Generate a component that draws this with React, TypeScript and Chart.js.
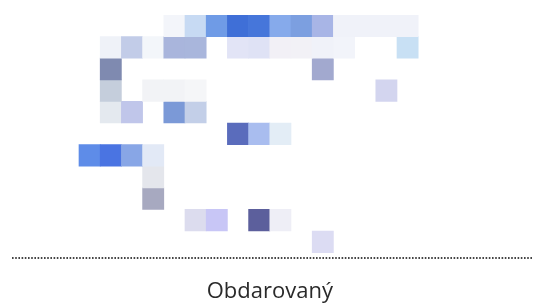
import React, { useEffect, useRef } from "react";
import { Chart, registerables } from "chart.js";

Chart.register(...registerables);

// Column categories of the x axis (recipients) – only the middle ones hold cells
const columns = [
  "K1", "K2", "K3", "K4", "K5", "K6", "K7", "K8", "K9", "K10", "K11", "K12",
  "K13", "K14", "K15", "K16", "K17", "K18", "K19", "K20", "K21", "K22", "K23", "K24",
];
// Rows (donors), top to bottom
const rows = ["R1", "R2", "R3", "R4", "R5", "R6", "R7", "R8", "R9", "R10", "R11"];
// First column (index into columns) where the cell grid starts
const firstCol = 3;

// Cell intensities (0-100) per row, per grid column (16 grid columns); null = empty
const values: (number | null)[][] = [
  [null, null, null, null, 5, 25, 60, 85, 82, 50, 55, 35, 8, 8, 8, 8],
  [null, 8, 25, 5, 35, 35, null, 12, 14, 6, 6, 8, 7, null, null, 22],
  [null, 60, null, null, null, null, null, null, null, null, null, 40, null, null, null, null],
  [null, 25, null, 6, 6, 5, null, null, null, null, null, null, null, null, 20, null],
  [null, 12, 28, null, 55, 25, null, null, null, null, null, null, null, null, null, null],
  [null, null, null, null, null, null, null, 75, 35, 12, null, null, null, null, null, null],
  [70, 85, 50, 12, null, null, null, null, null, null, null, null, null, null, null, null],
  [null, null, null, 12, null, null, null, null, null, null, null, null, null, null, null, null],
  [null, null, null, 38, null, null, null, null, null, null, null, null, null, null, null, null],
  [null, null, null, null, null, 16, 25, null, 75, 7, null, null, null, null, null, null],
  [null, null, null, null, null, null, null, null, null, null, null, 16, null, null, null, null],
];

// Colour of each cell (style table matching the values grid)
const cellColors: (string | null)[][] = [
  [null, null, null, null, "#f3f5fa", "#c7daf3", "#6f9be6", "#3f6fd7", "#4676da", "#86aaeb", "#7c9fe0", "#a8b5e6", "#f0f2f9", "#f0f2f9", "#f0f2f9", "#f0f2f9"],
  [null, "#eff2f8", "#c2cce8", "#f3f6fa", "#a9b5dc", "#a9b6dc", null, "#e2e4f6", "#dfe2f5", "#f2f0f6", "#f2f1f6", "#f0f2f9", "#f2f4fa", null, null, "#c8e0f4"],
  [null, "#7f8ab0", null, null, null, null, null, null, null, null, null, "#a2a9cf", null, null, null, null],
  [null, "#c5cedc", null, "#f2f3f6", "#f2f3f6", "#f5f6f8", null, null, null, null, null, null, null, null, "#d3d5ef", null],
  [null, "#e4e9ef", "#c0c6ea", null, "#7b99d7", "#c3cfe8", null, null, null, null, null, null, null, null, null, null],
  [null, null, null, null, null, null, null, "#5a6cbc", "#a9bdef", "#e3edf6", null, null, null, null, null, null],
  ["#5e8ce8", "#4a74e2", "#88a6e6", "#e2e9f6", null, null, null, null, null, null, null, null, null, null, null, null],
  [null, null, null, "#e4e6ec", null, null, null, null, null, null, null, null, null, null, null, null],
  [null, null, null, "#a7a9c0", null, null, null, null, null, null, null, null, null, null, null, null],
  [null, null, null, null, null, "#dcdcee", "#c8c6f6", null, "#5c5f9c", "#eeeef6", null, null, null, null, null, null],
  [null, null, null, null, null, null, null, null, null, null, null, "#dcdcf3", null, null, null, null],
];

const axisTitle = "Obdarovaný";

const dottedAxis = {
  id: "dottedAxis",
  afterDraw(chart: any) {
    const { ctx, chartArea, width } = chart;
    ctx.save();
    ctx.strokeStyle = "#444444";
    ctx.lineWidth = 1.8;
    ctx.setLineDash([1.6, 1.6]);
    ctx.beginPath();
    ctx.moveTo(12, chartArea.bottom);
    ctx.lineTo(width, chartArea.bottom);
    ctx.stroke();
    ctx.restore();
  },
};

export default function App() {
  const ref = useRef<HTMLCanvasElement | null>(null);

  useEffect(() => {
    if (!ref.current) return;
    const datasets = rows.map((name, r) => {
      const data = columns.map((_, ci) => {
        const g = ci - firstCol;
        const v = g >= 0 && g < values[r].length ? values[r][g] : null;
        return v == null ? null : [r, r + 1];
      });
      const bg = columns.map((_, ci) => {
        const g = ci - firstCol;
        const c = g >= 0 && g < cellColors[r].length ? cellColors[r][g] : null;
        return c || "rgba(0,0,0,0)";
      });
      return {
        label: name,
        data,
        backgroundColor: bg,
        borderWidth: 0,
        grouped: false,
        barPercentage: 1,
        categoryPercentage: 1,
      };
    });

    const chart = new Chart(ref.current, {
      type: "bar",
      data: { labels: columns, datasets: datasets as any },
      plugins: [dottedAxis],
      options: {
        animation: false,
        responsive: false,
        layout: { padding: { left: 15.4, right: 8.8, top: 15, bottom: 0 } },
        plugins: { legend: { display: false }, tooltip: { enabled: false } },
        scales: {
          x: {
            type: "category",
            ticks: { display: false },
            grid: { display: false, drawTicks: false, tickLength: 0 },
            border: { display: false },
            title: {
              display: true,
              text: axisTitle,
              color: "#2a2a2a",
              font: { family: "'Open Sans', sans-serif", size: 22 },
              padding: { top: 20.6, bottom: 0 },
            },
          },
          y: {
            type: "linear",
            reverse: true,
            min: 0,
            max: 11.25,
            display: false,
          },
        },
      },
    });
    return () => chart.destroy();
  }, []);

  return (
    <div style={{ position: "absolute", left: 0, top: 0, width: 533, height: 305, background: "#ffffff" }}>
      <canvas ref={ref} width={533} height={305} style={{ display: "block" }} />
    </div>
  );
}
